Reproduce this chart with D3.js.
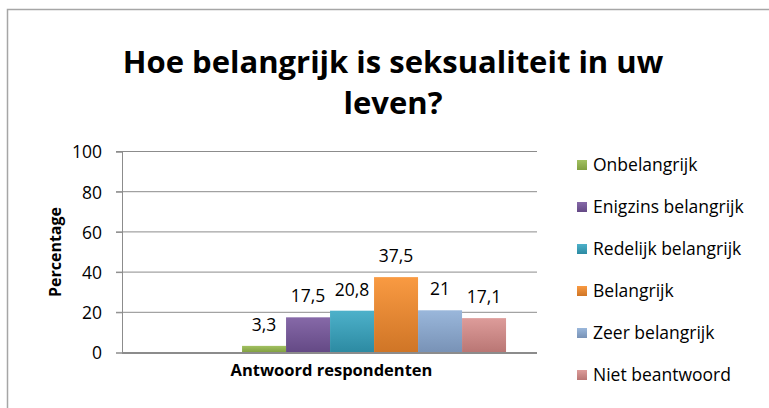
<!DOCTYPE html>
<html>
<head>
<meta charset="utf-8">
<script src="https://cdn.jsdelivr.net/npm/d3@7/dist/d3.min.js"></script>
<style>
  body { margin: 0; background: #fff; }
  text { font-family: "Open Sans", "DejaVu Sans", sans-serif; fill: #000; }
</style>
</head>
<body>
<script>
// data
var categories = ["Antwoord respondenten"]
var series = ["Onbelangrijk", "Enigzins belangrijk", "Redelijk belangrijk", "Belangrijk", "Zeer belangrijk", "Niet beantwoord"]
var values = [3.3, 17.5, 20.8, 37.5, 21, 17.1]
var yTicks = [0, 20, 40, 60, 80, 100]
var titleLines = ["Hoe belangrijk is seksualiteit in uw", "leven?"]

// gradient colours (top / bottom) per series
var topColors = ["#a2c161", "#8669a8", "#4db1ca", "#f99a42", "#9ab7db", "#dd9c9a"]
var bottomColors = ["#809f40", "#644985", "#2c8aa2", "#cf7526", "#7892b6", "#b97674"]

var width = 769, height = 408

var svg = d3.select("body").append("svg")
  .attr("width", width)
  .attr("height", height)

// chart border (runs off the right and bottom of the picture)
svg.append("rect")
  .attr("x", 7.5).attr("y", 9.5)
  .attr("width", 800).attr("height", 500)
  .attr("fill", "none")
  .attr("stroke", "#a6a6a6")
  .attr("stroke-width", 1.5)

var defs = svg.append("defs")
series.forEach(function (s, i) {
  var g = defs.append("linearGradient")
    .attr("id", "grad" + i)
    .attr("x1", 0).attr("y1", 0).attr("x2", 0).attr("y2", 1)
  g.append("stop").attr("offset", "0%").attr("stop-color", topColors[i])
  g.append("stop").attr("offset", "100%").attr("stop-color", bottomColors[i])
})

var plot = { left: 122, right: 537, top: 151.5, bottom: 352.5 }

var y = d3.scaleLinear().domain([0, 100]).range([plot.bottom, plot.top])
var x0 = d3.scaleBand().domain(categories).range([plot.left, plot.right])
var x1 = d3.scaleBand().domain(series).range([0, x0.bandwidth()])
  .paddingInner(0).paddingOuter(1.716).align(0.795)

var fmt = d3.formatLocale({ decimal: ",", thousands: ".", grouping: [3], currency: ["€", ""] }).format("~g")

// title
var title = svg.append("g").attr("font-weight", "bold")
title.selectAll("text")
  .data(titleLines)
  .enter().append("text")
  .attr("x", 393)
  .attr("y", function (d, i) { return 73 + i * 41 })
  .attr("text-anchor", "middle")
  .style("font-size", "31px")
  .text(function (d) { return d })

// gridlines
svg.append("g").selectAll("line")
  .data(yTicks.filter(function (d) { return d > 0 }))
  .enter().append("line")
  .attr("x1", plot.left - 6).attr("x2", plot.right)
  .attr("y1", function (d) { return y(d) }).attr("y2", function (d) { return y(d) })
  .attr("stroke", "#8c8c8c")
  .attr("stroke-width", 1)

// y axis
var yAxis = d3.axisLeft(y).tickValues(yTicks).tickSize(6).tickPadding(14)
var ya = svg.append("g")
  .attr("transform", "translate(" + plot.left + ",0)")
  .call(yAxis)
ya.select(".domain").attr("stroke", "#8c8c8c")
ya.selectAll(".tick line").attr("stroke", "#8c8c8c")
ya.selectAll(".tick text")
  .style("font-size", "17.5px")
  .style("font-family", "'Open Sans', sans-serif")
  .attr("fill", "#000")
  .attr("dy", "0.36em")

// bars
var bars = svg.append("g").selectAll("g")
  .data(categories)
  .enter().append("g")
  .attr("transform", function (d) { return "translate(" + x0(d) + ",0)" })

bars.selectAll("rect")
  .data(values.map(function (v, i) { return { name: series[i], value: v, i: i } }))
  .enter().append("rect")
  .attr("x", function (d) { return x1(d.name) })
  .attr("width", x1.bandwidth())
  .attr("y", function (d) { return y(d.value) })
  .attr("height", function (d) { return y(0) - y(d.value) })
  .attr("fill", function (d) { return "url(#grad" + d.i + ")" })

bars.selectAll("text.val")
  .data(values.map(function (v, i) { return { name: series[i], value: v } }))
  .enter().append("text")
  .attr("class", "val")
  .attr("x", function (d) { return x1(d.name) + x1.bandwidth() / 2 })
  .attr("y", function (d) { return y(d.value) - 15 })
  .attr("text-anchor", "middle")
  .style("font-size", "17.5px")
  .text(function (d) { return fmt(d.value) })

// zero axis line
svg.append("line")
  .attr("x1", plot.left).attr("x2", plot.right)
  .attr("y1", y(0) + 0.5).attr("y2", y(0) + 0.5)
  .attr("stroke", "#8c8c8c")
  .attr("stroke-width", 2)

// axis titles
svg.append("text")
  .attr("x", (plot.left + plot.right) / 2 + 2)
  .attr("y", 376)
  .attr("text-anchor", "middle")
  .attr("font-weight", "bold")
  .style("font-size", "16.5px")
  .text(categories[0])

svg.append("text")
  .attr("transform", "translate(61,252) rotate(-90)")
  .attr("text-anchor", "middle")
  .attr("font-weight", "bold")
  .style("font-size", "16px")
  .text("Percentage")

// legend
var legend = svg.append("g").selectAll("g")
  .data(series)
  .enter().append("g")
  .attr("transform", function (d, i) { return "translate(577," + (165 + i * 42) + ")" })

legend.append("rect")
  .attr("x", 0).attr("y", -5)
  .attr("width", 10).attr("height", 10)
  .attr("fill", function (d, i) { return "url(#grad" + i + ")" })

legend.append("text")
  .attr("x", 16)
  .attr("dy", "0.36em")
  .style("font-size", "17.5px")
  .text(function (d) { return d })
</script>
</body>
</html>
